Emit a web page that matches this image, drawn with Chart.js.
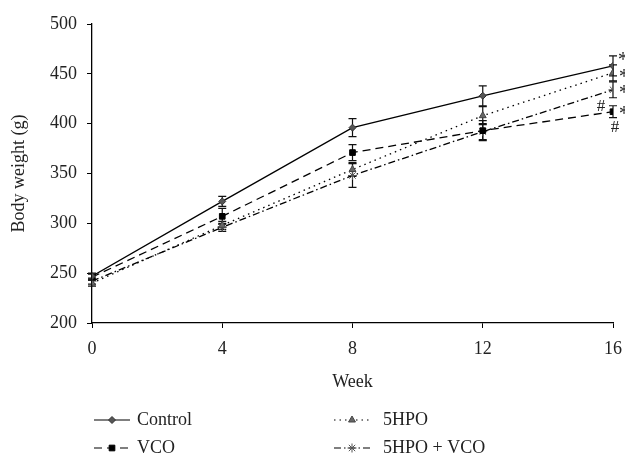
<!DOCTYPE html>
<html>
<head>
<meta charset="utf-8">
<script src="https://cdn.jsdelivr.net/npm/chart.js@4/dist/chart.umd.min.js"></script>
<style>
html, body { margin: 0; padding: 0; background: #fff; }
#wrap { width: 625px; height: 457px; }
</style>
</head>
<body>
<div id="wrap"><canvas id="bwChart"></canvas></div>
<script>
// weeks on the x axis
const weeks = [0, 4, 8, 12, 16];
const xTicks = [0, 4, 8, 12, 16];
const yTicks = [200, 250, 300, 350, 400, 450, 500];

// mean body weight (g)
const controlData = [247, 322, 396, 428, 458];
const vcoData = [246, 307, 371, 393, 412];
const hpoData = [240, 298, 354, 408, 451];
const hpoVcoData = [242, 296, 348, 392, 434];

// error bars (SD)
const controlErr = [3, 5, 9, 10, 10];
const vcoErr = [3, 8, 8, 10, 6];
const hpoErr = [3, 4, 7, 9, 8];
const hpoVcoErr = [3, 4, 12, 8, 8];

// significance marks at week 16
const starMarks = ["*", "*", "*", "*"];
const hashMarks = ["#", "#"];

const serif = "'Liberation Serif', 'DejaVu Serif', serif";

function toPoints(values) {
    return weeks.map(function (w, i) { return { x: w, y: values[i] }; });
}

// error bars under the points
const errorBarPlugin = {
    id: "errorBars",
    beforeDatasetsDraw: function (chart) {
        const ctx = chart.ctx;
        const xs = chart.scales.x, ys = chart.scales.y;
        ctx.save();
        ctx.strokeStyle = "#111";
        ctx.lineWidth = 1.2;
        chart.data.datasets.forEach(function (ds) {
            ds.data.forEach(function (p, i) {
                const e = ds.errors[i];
                const x = xs.getPixelForValue(p.x);
                const yt = ys.getPixelForValue(p.y + e);
                const yb = ys.getPixelForValue(p.y - e);
                ctx.beginPath();
                ctx.moveTo(x, yt); ctx.lineTo(x, yb);
                ctx.moveTo(x - 4, yt); ctx.lineTo(x + 4, yt);
                ctx.moveTo(x - 4, yb); ctx.lineTo(x + 4, yb);
                ctx.stroke();
            });
        });
        ctx.restore();
    }
};

// * and # next to the last points, plus the legend under the axis
const notesPlugin = {
    id: "notes",
    afterDraw: function (chart) {
        const ctx = chart.ctx;
        const xs = chart.scales.x, ys = chart.scales.y;
        const last = weeks.length - 1;
        ctx.save();
        ctx.fillStyle = "#222";
        ctx.textBaseline = "middle";
        ctx.font = "20px " + serif;
        const starOffsets = [[5, -9], [6, -1], [6, 1], [6, 0]];
        chart.data.datasets.forEach(function (ds, k) {
            const x = xs.getPixelForValue(ds.data[last].x);
            const y = ys.getPixelForValue(ds.data[last].y);
            ctx.fillText(starMarks[k], x + starOffsets[k][0], y + starOffsets[k][1] + 4);
        });
        ctx.font = "17px " + serif;
        const xv = xs.getPixelForValue(weeks[last]);
        const yv = ys.getPixelForValue(vcoData[last]);
        ctx.textAlign = "center";
        ctx.fillText(hashMarks[0], xv - 12, yv - 5);
        ctx.fillText(hashMarks[1], xv + 2, yv + 16);

        // legend
        const cols = [94, 334];
        const textGap = [43, 49];
        const rows = [420, 448];
        ctx.textAlign = "left";
        chart.data.datasets.forEach(function (ds, k) {
            const c = k < 2 ? 0 : 1;
            const lx = cols[c];
            const ly = rows[k % 2];
            ctx.strokeStyle = "#000";
            ctx.lineWidth = 1.2;
            ctx.setLineDash(ds.borderDash || []);
            ctx.beginPath();
            ctx.moveTo(lx, ly); ctx.lineTo(lx + 36, ly);
            ctx.stroke();
            ctx.setLineDash([]);
            ctx.fillStyle = ds.pointBackgroundColor;
            ctx.strokeStyle = ds.pointBorderColor;
            ctx.lineWidth = ds.pointBorderWidth;
            Chart.helpers.drawPoint(ctx, {
                pointStyle: ds.pointStyle, radius: ds.pointRadius, rotation: 0,
                borderWidth: ds.pointBorderWidth
            }, lx + 18, ly);
            ctx.fillStyle = "#222";
            ctx.font = "18px " + serif;
            ctx.fillText(ds.label, lx + textGap[c], ly);
        });
        ctx.restore();
    }
};

const ctx = document.getElementById("bwChart").getContext("2d");
new Chart(ctx, {
    type: "line",
    data: {
        datasets: [
            {
                label: "Control",
                data: toPoints(controlData),
                errors: controlErr,
                borderColor: "#000",
                borderWidth: 1.3,
                pointStyle: "rectRot",
                pointRadius: 3.5,
                pointBackgroundColor: "#555",
                pointBorderColor: "#333",
                pointBorderWidth: 1
            },
            {
                label: "VCO",
                data: toPoints(vcoData),
                errors: vcoErr,
                borderColor: "#000",
                borderWidth: 1.3,
                borderDash: [8, 5],
                pointStyle: "rect",
                pointRadius: 4,
                pointBackgroundColor: "#000",
                pointBorderColor: "#000",
                pointBorderWidth: 1
            },
            {
                label: "5HPO",
                data: toPoints(hpoData),
                errors: hpoErr,
                borderColor: "#000",
                borderWidth: 1.3,
                borderDash: [1.5, 4],
                pointStyle: "triangle",
                pointRadius: 4,
                pointBackgroundColor: "#666",
                pointBorderColor: "#444",
                pointBorderWidth: 1
            },
            {
                label: "5HPO + VCO",
                data: toPoints(hpoVcoData),
                errors: hpoVcoErr,
                borderColor: "#000",
                borderWidth: 1.3,
                borderDash: [7, 3, 1.5, 3],
                pointStyle: "star",
                pointRadius: 4.5,
                pointBackgroundColor: "#fff",
                pointBorderColor: "#555",
                pointBorderWidth: 1
            }
        ]
    },
    options: {
        responsive: true,
        maintainAspectRatio: false,
        animation: false,
        layout: { padding: { top: 24, right: 12, bottom: 60, left: 0 } },
        plugins: {
            legend: { display: false },
            tooltip: { enabled: false }
        },
        elements: { line: { tension: 0, fill: false } },
        scales: {
            x: {
                type: "linear",
                min: 0,
                max: 16,
                afterBuildTicks: function (axis) {
                    axis.ticks = xTicks.map(function (v) { return { value: v }; });
                },
                afterFit: function (axis) {
                    axis.height = 74;
                    axis.paddingRight = 0;
                    axis.paddingLeft = 0;
                },
                grid: { display: true, drawOnChartArea: false, drawTicks: true, tickLength: 5, color: "#000" },
                border: { display: true, color: "#000", width: 1.3 },
                ticks: { color: "#222", padding: 10, font: { family: serif, size: 18 } },
                title: {
                    display: true, text: "Week", color: "#222",
                    font: { family: serif, size: 18 }, padding: { top: 4, bottom: 4 }
                }
            },
            y: {
                min: 200,
                max: 500,
                afterBuildTicks: function (axis) {
                    axis.ticks = yTicks.map(function (v) { return { value: v }; });
                },
                afterFit: function (axis) { axis.width = 92; },
                grid: { display: true, drawOnChartArea: false, drawTicks: true, tickLength: 5, color: "#000" },
                border: { display: true, color: "#000", width: 1.3 },
                ticks: { color: "#222", padding: 10, font: { family: serif, size: 18 } },
                title: {
                    display: true, text: "Body weight (g)", color: "#222",
                    font: { family: serif, size: 18 }, padding: { top: 8, bottom: 4 }
                }
            }
        }
    },
    plugins: [errorBarPlugin, notesPlugin]
});
</script>
</body>
</html>
